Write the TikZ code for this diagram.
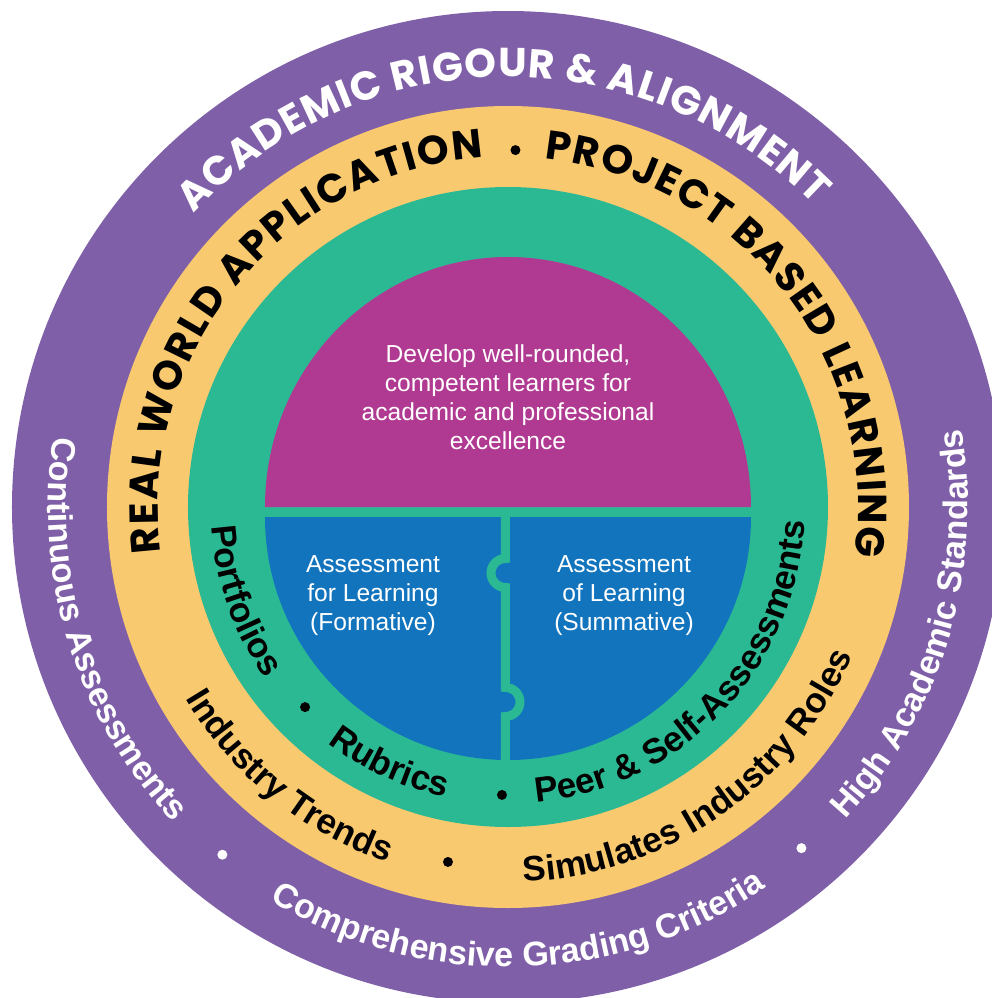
\documentclass[tikz,border=0pt]{standalone}
\usepackage{fontspec}
\setmainfont{Liberation Sans}
\newfontfamily\capsfont{Poppins}
\usetikzlibrary{decorations.text}

\definecolor{ringpurple}{HTML}{7F60A8}
\definecolor{ringyellow}{HTML}{F9C96F}
\definecolor{ringgreen}{HTML}{2BB994}
\definecolor{goalmagenta}{HTML}{B03A91}
\definecolor{assessblue}{HTML}{1274BD}

\newcommand\capsfnt{\capsfont\bfseries\fontsize{23}{25}\selectfont}
\newcommand\ringfnt{\bfseries\fontsize{20}{22}\selectfont}
\newcommand\outerfnt{\bfseries\fontsize{19.4}{21}\selectfont}

\tikzset{
  ringtext/.style={decorate, decoration={text along path, text align=fit to path, text color=#1}},
  ringtextc/.style={decorate, decoration={text along path, text align=center, text color=#1}},
  bullet/.style={circle, inner sep=0pt, minimum size=0.2cm},
  inner/.style={text=white, align=center, font=\fontsize{14}{16.5}\selectfont}
}

\begin{document}
\begin{tikzpicture}
    \useasboundingbox (-10.16,-9.82) rectangle (9.68,10.14);

    % Rings.
    \fill[ringpurple] (0,0) circle (9.92);
    \fill[ringyellow] (0,0) circle (8.02);
    \fill[ringgreen]  (0,0) circle (6.40);

    % Centre pieces.
    \fill[goalmagenta] (-4.86,0) arc[start angle=180, end angle=0, x radius=4.86, y radius=5] -- cycle;
    \fill[assessblue] (-4.86,-0.2) arc[start angle=180, end angle=360, radius=4.86] -- cycle;
    \draw[ringgreen, line width=0.18cm] (-0.05,-0.2) -- (-0.05,-1.03)
      arc[start angle=90, end angle=270, radius=0.29] -- (-0.05,-3.61)
      arc[start angle=90, end angle=-90, radius=0.29] -- (-0.05,-5.3);

    \node[inner] (goal) at (0,2.19) {Develop well-rounded,\\competent learners for\\academic and professional\\excellence};
    \node[inner] (afl) at (-2.7,-1.78) {Assessment\\for Learning\\(Formative)};
    \node[inner] (aol) at (2.32,-1.78) {Assessment\\of Learning\\(Summative)};

    % Outer ring.
    \path[ringtext=white, decoration={text={|\capsfnt|ACADEMIC RIGOUR {\&} ALIGNMENT}}]
      (137:8.6) arc[start angle=137, end angle=44.5, radius=8.6];
    \path[ringtextc=white, decoration={text={|\outerfnt|Continuous Assessments}}]
      (152:9.2) arc[start angle=152, end angle=242.5, radius=9.2];
    \path[ringtextc=white, decoration={text={|\outerfnt|Comprehensive Grading Criteria}}]
      (226.5:9.2) arc[start angle=226.5, end angle=316.5, radius=9.2];
    \path[ringtextc=white, decoration={text={|\outerfnt|High Academic Standards}}]
      (298.5:9.2) arc[start angle=298.5, end angle=388.5, radius=9.2];
    \node[bullet, fill=white] (dotca) at (230.6:9.0) {};
    \node[bullet, fill=white] (dotcg) at (310.7:9.0) {};

    % Yellow ring.
    \path[ringtext=black, decoration={text={|\capsfnt|REAL WORLD APPLICATION}}]
      (187.5:7.0) arc[start angle=187.5, end angle=94, radius=7.0];
    \path[ringtext=black, decoration={text={|\capsfnt|PROJECT BASED LEARNING}}]
      (84:7.0) arc[start angle=84, end angle=-8, radius=7.0];
    \path[ringtextc=black, decoration={text={|\ringfnt|Industry Trends}}]
      (186:7.5) arc[start angle=186, end angle=276, radius=7.5];
    \path[ringtextc=black, decoration={text={|\ringfnt|Simulates Industry Roles}}]
      (259.5:7.5) arc[start angle=259.5, end angle=349.5, radius=7.5];
    \node[bullet, fill=black] (dotrw) at (88.8:7.14) {};
    \node[bullet, fill=black] (dotit) at (260.4:7.2) {};

    % Green ring.
    \path[ringtextc=black, decoration={text={|\ringfnt|Portfolios}}]
      (164.5:5.94) arc[start angle=164.5, end angle=234.5, radius=5.94];
    \path[ringtextc=black, decoration={text={|\ringfnt|Rubrics}}]
      (210:5.94) arc[start angle=210, end angle=280.5, radius=5.94];
    \path[ringtextc=black, decoration={text={|\ringfnt|Peer {\&} Self-Assessments}}]
      (266.5:5.94) arc[start angle=266.5, end angle=366.2, radius=5.94];
    \node[bullet, fill=black] (dotpf) at (224.6:5.7) {};
    \node[bullet, fill=black] (dotrb) at (268.8:5.76) {};

\end{tikzpicture}
\end{document}
